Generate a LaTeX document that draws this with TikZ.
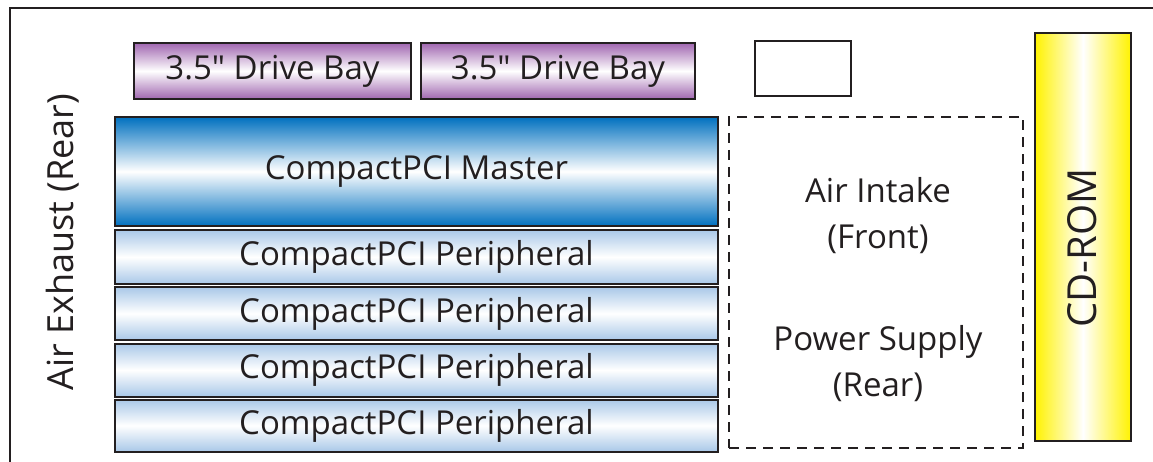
\documentclass[tikz,border=0pt]{standalone}
\usepackage{fontspec}
\newfontfamily\labfont{Open Sans}
\definecolor{edge}{HTML}{231F20}
\definecolor{purp}{HTML}{A066B0}
\definecolor{mblue}{HTML}{0070BF}
\definecolor{lblue}{HTML}{A9C8E8}
\definecolor{cdy}{HTML}{FFF200}
\tikzset{
  box/.style={draw=edge, line width=2pt, anchor=north west, inner sep=0pt, text=edge, font=\labfont\fontsize{33}{38}\selectfont},
  bay/.style={box, top color=purp, bottom color=purp, middle color=white},
  master/.style={box, top color=mblue, bottom color=mblue, middle color=white},
  periph/.style={box, top color=lblue, bottom color=lblue, middle color=white},
  lbl/.style={font=\labfont\fontsize{33}{46}\selectfont, text=edge, align=center, inner sep=0pt},
}
\begin{document}
\begin{tikzpicture}[x=1pt,y=1pt]
\useasboundingbox (0,0) rectangle (1153,-462);
\fill[white] (0,0) rectangle (1153,-462);
% frame
\draw[edge, line width=2pt] (1153,-8.5) -- (10,-8.5) -- (10,-462);
% drive bays
\node[bay, minimum width=277pt, minimum height=56pt] (bay1) at (133,-42) {3.5" Drive Bay};
\node[bay, minimum width=274pt, minimum height=56pt] (bay2) at (420,-42) {3.5" Drive Bay};
\node[box, minimum width=96pt, minimum height=55pt] (blank) at (754,-40) {};
% master
\node[master, minimum width=603pt, minimum height=109pt] (master) at (114,-116) {CompactPCI Master};
\node[periph, minimum width=603pt, minimum height=54pt] (p1) at (114,-229) {CompactPCI Peripheral};
\node[periph, minimum width=603pt, minimum height=53pt] (p2) at (114,-286) {CompactPCI Peripheral};
\node[periph, minimum width=603pt, minimum height=53pt] (p3) at (114,-342.5) {CompactPCI Peripheral};
\node[periph, minimum width=603pt, minimum height=52pt] (p4) at (114,-398.5) {CompactPCI Peripheral};
% dashed region
\node[draw=edge, line width=2pt, dash pattern=on 10pt off 7pt, anchor=north west, minimum width=294pt, minimum height=331pt, inner sep=0pt] (psu) at (728,-116) {};
\node[lbl] (intake) at (878,-216) {Air Intake\\(Front)};
\node[lbl] (power) at (878,-364) {Power Supply\\(Rear)};
% CD-ROM
\node[draw=edge, line width=2pt, anchor=north west, minimum width=96pt, minimum height=408pt, inner sep=0pt,
  left color=cdy, right color=cdy, middle color=white] (cd) at (1034,-32) {};
\node[lbl, rotate=90, font=\labfont\fontsize{40}{46}\selectfont] (cdtext) at (1082,-248) {CD-ROM};
% side label
\node[lbl, rotate=90, font=\labfont\fontsize{36}{46}\selectfont] (exhaust) at (63,-242) {Air Exhaust (Rear)};
\end{tikzpicture}
\end{document}
